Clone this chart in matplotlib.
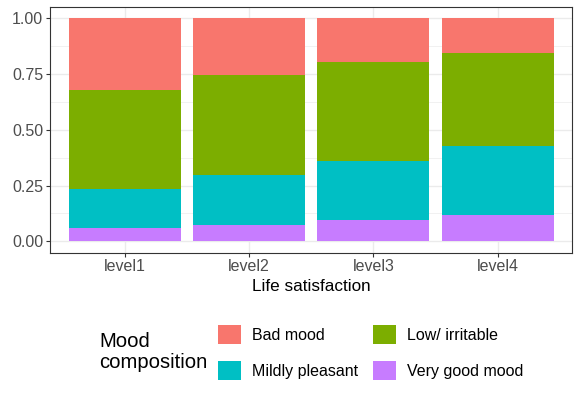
import matplotlib
matplotlib.use('Agg')
import matplotlib.pyplot as plt
from matplotlib.patches import Patch
import numpy as np

levels = ['level1', 'level2', 'level3', 'level4']

# share of each mood per life-satisfaction level (bottom to top of the stack)
very_good = [0.058, 0.075, 0.095, 0.118]
mildly_pleasant = [0.175, 0.222, 0.265, 0.312]
low_irritable = [0.445, 0.449, 0.443, 0.413]
bad_mood = [0.322, 0.254, 0.197, 0.157]

moods = ['Very good mood', 'Mildly pleasant', 'Low/ irritable', 'Bad mood']
shares = [very_good, mildly_pleasant, low_irritable, bad_mood]
colors = {
    'Bad mood':        '#F8766D',
    'Low/ irritable':  '#7CAE00',
    'Mildly pleasant': '#00BFC4',
    'Very good mood':  '#C77CFF',
}

plt.rcParams['font.family'] = ['Liberation Sans', 'DejaVu Sans']

fig = plt.figure(figsize=(5.81, 3.99), dpi=100)
W, H = 581, 399
ax = fig.add_axes([50 / W, 1 - 252.5 / H, (572.3 - 50) / W, (252.5 - 7.3) / H])

x = np.arange(1, len(levels) + 1)
bottom = np.zeros(len(levels))
for mood, vals in zip(moods, shares):
    ax.bar(x, vals, width=0.9, bottom=bottom, color=colors[mood],
           linewidth=0, zorder=3)
    bottom += np.array(vals)

ax.set_xlim(0.4, 4.6)
ax.set_ylim(-0.05, 1.05)
ax.set_xticks(x)
ax.set_xticklabels(levels)
ax.set_yticks([0, 0.25, 0.5, 0.75, 1.0])
ax.set_yticklabels(['0.00', '0.25', '0.50', '0.75', '1.00'])
ax.set_yticks([0.125, 0.375, 0.625, 0.875], minor=True)

ax.grid(which='major', color='#EBEBEB', linewidth=1.0, zorder=0)
ax.grid(which='minor', axis='y', color='#EBEBEB', linewidth=0.5, zorder=0)
ax.set_axisbelow(True)
for s in ax.spines.values():
    s.set_color('#333333')
    s.set_linewidth(0.8)
ax.tick_params(which='major', length=3, width=0.8, color='#333333',
               labelsize=11.5, labelcolor='#4D4D4D', pad=2)
ax.tick_params(which='minor', length=0)
ax.set_xlabel('Life satisfaction', fontsize=12.3, color='black', labelpad=3)

# legend below the plot, title on its left like ggplot
order = ['Bad mood', 'Mildly pleasant', 'Low/ irritable', 'Very good mood']
handles = [Patch(facecolor=colors[m], edgecolor='none', label=m) for m in order]
fig.text(99 / W, 1 - 352 / H, 'Mood\ncomposition', fontsize=14.6,
         ha='left', va='center', linespacing=1.1)
fig.legend(handles=handles, ncol=2, loc='center left',
           bbox_to_anchor=(213 / W, 1 - 352.5 / H), frameon=False,
           fontsize=11.5, handlelength=1.45, handleheight=1.45,
           handletextpad=0.7, columnspacing=0.9, labelspacing=1.1,
           borderaxespad=0, borderpad=0.3)

fig.savefig('out.png', dpi=100)
